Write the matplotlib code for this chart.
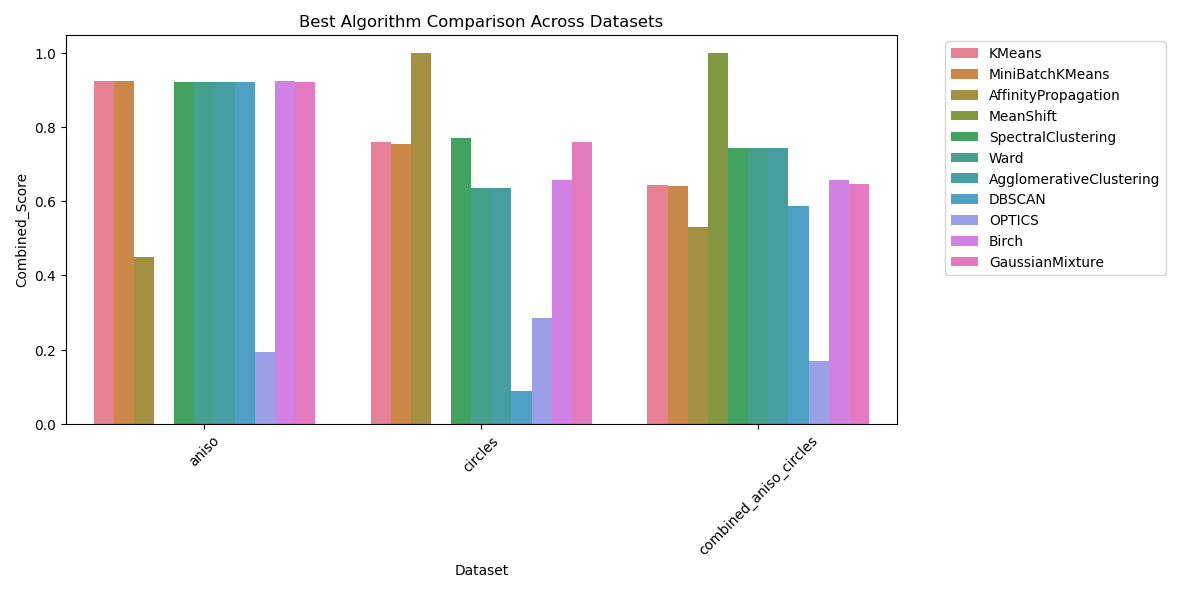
import matplotlib
matplotlib.use("Agg")
import matplotlib.pyplot as plt
import seaborn as sns
import pandas as pd
import numpy as np

datasets = ["aniso", "circles", "combined_aniso_circles"]
algorithms = ["KMeans", "MiniBatchKMeans", "AffinityPropagation", "MeanShift",
              "SpectralClustering", "Ward", "AgglomerativeClustering", "DBSCAN",
              "OPTICS", "Birch", "GaussianMixture"]
aniso = [0.925, 0.925, 0.450, np.nan, 0.922, 0.922, 0.922, 0.922, 0.193, 0.925, 0.922]
circles = [0.760, 0.755, 1.000, np.nan, 0.770, 0.635, 0.635, 0.088, 0.285, 0.657, 0.760]
combined = [0.643, 0.642, 0.530, 1.000, 0.743, 0.743, 0.743, 0.588, 0.168, 0.657, 0.647]

rows = []
for ds, vals in zip(datasets, [aniso, circles, combined]):
    for a, v in zip(algorithms, vals):
        rows.append({"Dataset": ds, "Algorithm": a, "Combined_Score": v})
df = pd.DataFrame(rows)

fig, ax = plt.subplots(figsize=(12, 6), dpi=98.75)
sns.barplot(data=df, x="Dataset", y="Combined_Score", hue="Algorithm",
            hue_order=algorithms, palette="husl", ax=ax)
ax.set_title("Best Algorithm Comparison Across Datasets")
plt.xticks(rotation=45)
ax.legend(bbox_to_anchor=(1.05, 1), loc="upper left")
plt.tight_layout()
plt.savefig("out.png")
